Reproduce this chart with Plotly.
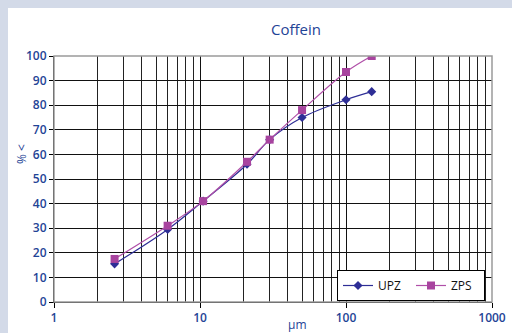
import plotly.graph_objects as go

sizes = [2.6, 6.0, 10.5, 21, 30, 50, 100, 150]
upz = [15.5, 29.5, 41, 56, 66, 75, 82.2, 85.5]
zps = [17.5, 31, 41, 57, 66, 78, 93.5, 100]
x_ticks = [1, 10, 100, 1000]
x_tick_labels = ["1", "10", "100", "1000"]
y_ticks = list(range(0, 101, 10))

blue = "#1f4496"
font = "Open Sans"
strip = "#d3dae8"

fig = go.Figure()
fig.add_trace(go.Scatter(x=sizes, y=upz, name="UPZ", mode="lines+markers",
                         line=dict(color="#2e2e96", width=1.2, shape="spline"),
                         marker=dict(symbol="diamond", size=7, color="#2e2e96")))
fig.add_trace(go.Scatter(x=sizes, y=zps, name="ZPS", mode="lines+markers",
                         line=dict(color="#b04fa8", width=1.2, shape="spline"),
                         marker=dict(symbol="square", size=8, color="#a8449f")))

L, R, T, B = 54, 20, 56, 31
W, H = 512, 333
pw, ph = W - L - R, H - T - B
fig.add_shape(type="rect", xref="paper", yref="paper", layer="below",
              x0=(8 - L) / pw, x1=(W - L) / pw + 0.01,
              y0=-(B + 5) / ph, y1=(ph + T - 8) / ph,
              fillcolor="white", line=dict(width=0))
fig.add_shape(type="rect", xref="paper", yref="paper", layer="above",
              x0=0, x1=1, y0=0, y1=1, line=dict(color="#9a9a9a", width=1.5))

tickfont = dict(family=font, size=12, color=blue, weight=600)

fig.add_annotation(text="% <", xref="paper", yref="paper",
                   x=(21 - L) / pw, y=(302 - 154) / ph, showarrow=False, textangle=-90,
                   xanchor="center", yanchor="middle",
                   font=dict(family=font, size=12, color=blue))
fig.add_annotation(text="µm", xref="paper", yref="paper",
                   x=(297 - L) / pw, y=-(324 - 302) / ph, showarrow=False,
                   xanchor="center", yanchor="middle",
                   font=dict(family=font, size=12, color=blue))

fig.update_layout(
    width=W, height=H,
    margin=dict(l=L, r=R, t=T, b=B, autoexpand=False),
    paper_bgcolor=strip,
    plot_bgcolor="#c8c9cb",
    title=dict(text="Coffein", x=296 / W, xanchor="center", y=1 - 30 / H, yanchor="middle",
               font=dict(family=font, size=15, color=blue)),
    font=dict(family=font, size=12, color=blue),
    showlegend=True,
    legend=dict(orientation="h", x=(337 - L) / pw, y=(302 - 270) / ph, xanchor="left", yanchor="top",
                bgcolor="white", bordercolor="black", borderwidth=1,
                font=dict(family=font, size=12, color="#111111"),
                entrywidth=28, entrywidthmode="pixels", tracegroupgap=0),
    xaxis=dict(type="log", range=[0, 3], tickvals=x_ticks, ticktext=x_tick_labels,
               automargin=False, tickfont=tickfont,
               showgrid=True, gridcolor="#111111", gridwidth=1.3,
               minor=dict(dtick="D1", showgrid=True, gridcolor="#222222", gridwidth=1.3),
               showline=True, linecolor="black", linewidth=1,
               ticks="outside", ticklen=5, tickcolor="black",
               zeroline=False),
    yaxis=dict(range=[0, 100], tickvals=y_ticks, automargin=False, tickfont=tickfont,
               showgrid=True, gridcolor="#111111", gridwidth=1.3,
               showline=True, linecolor="black", linewidth=1,
               ticks="outside", ticklen=4, tickcolor="black",
               zeroline=False),
)
fig.write_html("out.html", config={"displayModeBar": False},
               post_script="document.body.style.margin='0';document.body.style.padding='0';"
                           "document.body.style.overflow='hidden';document.body.style.background='" + strip + "';")
